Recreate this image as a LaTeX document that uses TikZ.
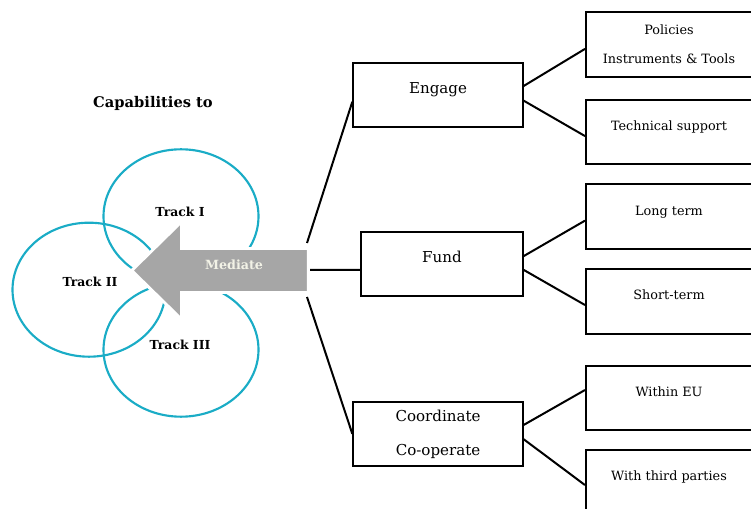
\documentclass[tikz,border=0pt]{standalone}
\usepackage{fontspec}
\setmainfont{DejaVu Serif}
\usetikzlibrary{shadows}
\definecolor{trackblue}{RGB}{26,172,198}
\definecolor{arrowgray}{RGB}{166,166,166}
\definecolor{mediatetext}{RGB}{242,242,230}
\tikzset{
  box/.style={draw,line width=1.5pt,minimum height=48.4pt,inner sep=0pt,
    text height=0.75em,text depth=9.5pt},
  subbox/.style={box,minimum width=124.5pt,font=\fontsize{9.6}{11.5}\selectfont},
  mainbox/.style={box,font=\fontsize{11.3}{13.5}\selectfont},
  track/.style={trackblue,line width=1.6pt},
  tracklabel/.style={font=\bfseries\fontsize{9.3}{11}\selectfont},
  link/.style={line width=1.5pt}
}
\begin{document}
\begin{tikzpicture}[x=0.75pt,y=-0.75pt] %---- capabilities diagram
\useasboundingbox (0,0) rectangle (751,509);
\node[font=\bfseries\fontsize{11}{13}\selectfont] (cap) at (153,103.5) {Capabilities to};
%---- the three tracks
\draw[track] (181,216.3) ellipse (77.5 and 67); % --- Track I
\draw[track] (89,289.7) ellipse (76.5 and 67); % --- Track II
\draw[track] (181,349.7) ellipse (77.5 and 67); % --- Track III
\node[tracklabel] (t1) at (180,212) {Track I};
\node[tracklabel] (t2) at (90,282) {Track II};
\node[tracklabel] (t3) at (180,345) {Track III};
%---- main boxes
\node[mainbox,minimum width=127pt] (engage) at (438,95.2) {Engage};
\node[mainbox,minimum width=121.3pt] (fund) at (441.9,263.8) {Fund};
\node[mainbox,minimum width=127pt,text height=,text depth=,align=center]
  (coord) at (438,433.9) {Coordinate\\[12pt]Co-operate};
%---- sub boxes
\node[subbox,text height=,text depth=,align=center] (policies) at (669,44.5)
  {Policies\\[10.5pt]Instruments \& Tools};
\node[subbox] (tech) at (669,132.2) {Technical support};
\node[subbox] (long) at (669,216.5) {Long term};
\node[subbox] (short) at (669,301.3) {Short-term};
\node[subbox] (within) at (669,398) {Within EU};
\node[subbox] (third) at (669,482) {With third parties};
%---- trunk
\coordinate (hubtop) at (307,243);
\coordinate (hubmid) at (310,270);
\coordinate (hubbot) at (307,297);
\draw[link] (hubtop) -- ([yshift=-4.9pt]engage.west);
\draw[link] (hubmid) -- ([yshift=-4.6pt]fund.west);
\draw[link] (hubbot) -- (coord.west);
%---- branches
\draw[link] ([yshift=6.9pt]engage.east) -- ([yshift=-3.3pt]policies.west);
\draw[link] ([yshift=-4.1pt]engage.east) -- ([yshift=-2.9pt]tech.west);
\draw[link] ([yshift=5.8pt]fund.east) -- ([yshift=-3.1pt]long.west);
\draw[link] ([yshift=-4.6pt]fund.east) -- ([yshift=-2.8pt]short.west);
\draw[link] ([yshift=6.7pt]coord.east) -- ([yshift=6pt]within.west);
\draw[link] ([yshift=-4pt]coord.east) -- ([yshift=-2.3pt]third.west);
%---- mediate arrow
\draw[white,line width=2.2pt,line join=miter,fill=arrowgray,
  drop shadow={shadow xshift=0.8pt,shadow yshift=-0.8pt,fill=black!25}]
  (131.7,270.5) -- (181.7,221.5) -- (181.7,248.5) -- (308.3,248.5)
  -- (308.3,292.5) -- (181.7,292.5) -- (181.7,319.5) -- cycle;
\node[font=\bfseries\fontsize{9.5}{11}\selectfont,text=mediatetext] (mediate) at (234,264.3) {Mediate};
\end{tikzpicture}
\end{document}
